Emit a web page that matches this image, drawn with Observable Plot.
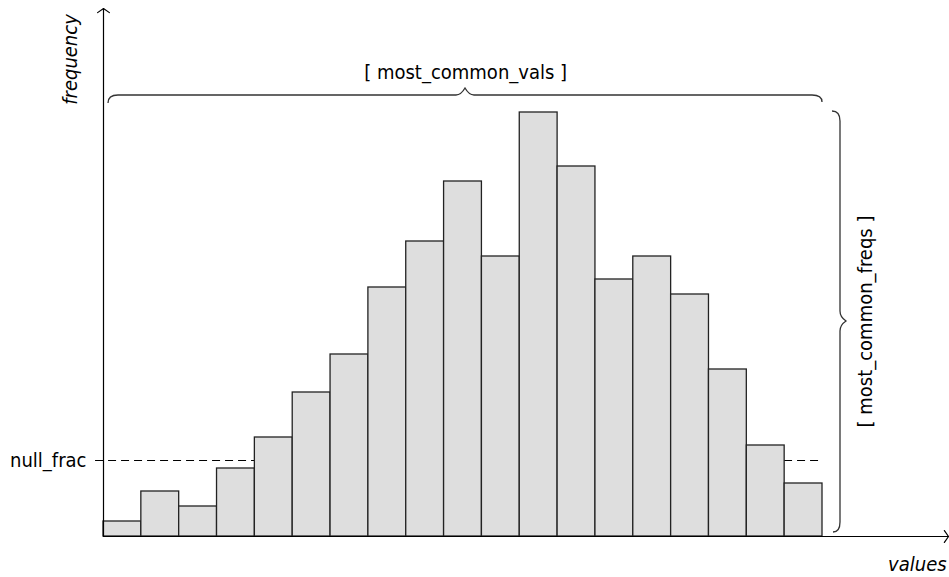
<!DOCTYPE html>
<html><head><meta charset="utf-8">
<script src="https://cdn.jsdelivr.net/npm/d3@7"></script>
<script src="https://cdn.jsdelivr.net/npm/@observablehq/plot@0.6"></script>
<style>
html,body{margin:0;padding:0;background:#fff;}
#chart{width:949px;height:577px;}
</style>
</head><body><div id="chart"></div>
<script>
// ---- data ----
const binIndex = [0,1,2,3,4,5,6,7,8,9,10,11,12,13,14,15,16,17,18];
const frequencies = [15, 45, 30, 68, 99, 144, 182, 249, 295, 355, 280, 424, 370, 257, 280, 242, 167, 91, 53];
const nullFrac = 76;
const nullFracLabel = "null_frac";
const valsLabel = "[ most_common_vals ]";
const freqsLabel = "[ most_common_freqs ]";
const xLabel = "values";
const yLabel = "frequency";

const bars = binIndex.map((i, k) => ({i, f: frequencies[k]}));
const nBins = binIndex.length;

const FONT = "'Liberation Sans Narrow','DejaVu Sans Condensed','Roboto',sans-serif";

function topBrace(index, {x, y}) {
  const x0 = x(0) + 5, x1 = x(nBins), yb = y(441), xm = (x0 + x1) / 2;
  const p = `M${x0},${yb+8} Q${x0},${yb} ${x0+10},${yb} L${xm-9},${yb} Q${xm-4},${yb} ${xm},${yb-7} Q${xm+4},${yb} ${xm+9},${yb} L${x1-10},${yb} Q${x1},${yb} ${x1},${yb+7}`;
  return d3.create("svg:path").attr("d", p).attr("fill", "none").attr("stroke", "#333").attr("stroke-width", 1.3).node();
}
function rightBrace(index, {x, y}) {
  const xb = x(nBins) + 18, y0 = y(425), y1 = y(4), ym = y(215);
  const p = `M${xb-8},${y0} Q${xb},${y0} ${xb},${y0+10} L${xb},${ym-10} Q${xb},${ym-4} ${xb+6},${ym} Q${xb},${ym+4} ${xb},${ym+10} L${xb},${y1-10} Q${xb},${y1} ${xb-7},${y1}`;
  return d3.create("svg:path").attr("d", p).attr("fill", "none").attr("stroke", "#333").attr("stroke-width", 1.3).node();
}

const chart = Plot.plot({
  width: 949,
  height: 577,
  margin: 0,
  style: {fontFamily: FONT, background: "#fff"},
  x: {domain: [0, nBins], range: [103, 822], axis: null},
  y: {domain: [0, 530], range: [536, 6], axis: null},
  marks: [
    Plot.ruleY([nullFrac], {x1: -0.21, x2: nBins, stroke: "#000", strokeWidth: 1.1, strokeDasharray: "8,5"}),
    Plot.rectY(bars, {x1: "i", x2: d => d.i + 1, y: "f", fill: "#dedede", stroke: "#222", strokeWidth: 1.3}),
    Plot.arrow([{x1: 0, y1: 0, x2: 0, y2: 528}], {x1: "x1", y1: "y1", x2: "x2", y2: "y2", stroke: "#000", strokeWidth: 1.2, headLength: 9, headAngle: 110}),
    Plot.arrow([{x1: 0, y1: 0, x2: 22.33, y2: 0}], {x1: "x1", y1: "y1", x2: "x2", y2: "y2", stroke: "#000", strokeWidth: 1.2, headLength: 9, headAngle: 110}),
    topBrace,
    rightBrace,
    Plot.text([nullFracLabel], {x: -0.45, y: nullFrac, text: d => d, textAnchor: "end", fontSize: 20, fill: "#000"}),
    Plot.text([valsLabel], {x: nBins / 2 + 0.07, y: 464, text: d => d, fontSize: 20, fill: "#000"}),
    Plot.text([freqsLabel], {x: 20.15, y: 215, text: d => d, rotate: -90, fontSize: 20, fill: "#000"}),
    Plot.text([yLabel], {x: -0.88, y: 477, text: d => d, rotate: -90, fontSize: 20, fontStyle: "italic", fill: "#000"}),
    Plot.text([xLabel], {x: 22.28, y: -28, text: d => d, textAnchor: "end", fontSize: 20, fontStyle: "italic", fill: "#000"})
  ]
});
document.getElementById("chart").append(chart);
</script>
</body></html>
